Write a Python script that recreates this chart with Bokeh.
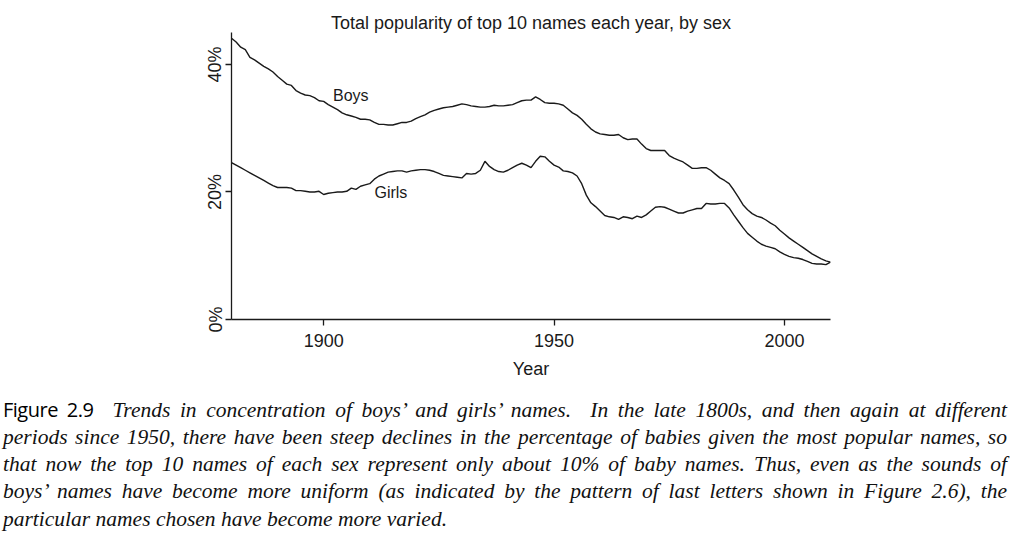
from bokeh.plotting import figure
from bokeh.models import Range1d, FixedTicker, Div
from bokeh.layouts import column
from bokeh.core.properties import value
from bokeh.embed import file_html
from bokeh.resources import INLINE

TITLE = "Total popularity of top 10 names each year, by sex"
X_LABEL = "Year"
YEARS = list(range(1880, 2011))
BOYS = [
    44.1, 43.5, 42.7, 42.3, 41.1, 40.7, 40.2, 39.7, 39.3, 38.8,
    38.1, 37.5, 36.9, 36.7, 35.9, 35.5, 35.2, 35.1, 34.8, 34.3,
    34.2, 33.7, 33.3, 32.9, 32.4, 32.1, 31.9, 31.7, 31.4, 31.4,
    31.3, 30.9, 30.6, 30.6, 30.5, 30.5, 30.7, 30.9, 30.9, 31.1,
    31.5, 31.8, 32.1, 32.5, 32.8, 33.0, 33.2, 33.3, 33.4, 33.6,
    33.8, 33.7, 33.5, 33.4, 33.3, 33.3, 33.4, 33.6, 33.5, 33.5,
    33.6, 33.7, 34.0, 34.3, 34.4, 34.4, 34.9, 34.5, 34.0, 33.9,
    33.9, 33.8, 33.6, 33.0, 32.4, 32.0, 31.4, 30.6, 29.9, 29.4,
    29.1, 29.0, 28.9, 28.9, 29.0, 28.5, 28.2, 28.3, 28.3, 27.5,
    26.8, 26.5, 26.5, 26.5, 26.5, 25.7, 25.3, 25.0, 24.7, 24.2,
    23.7, 23.7, 23.8, 23.8, 23.4, 22.8, 22.2, 21.8, 21.3, 20.3,
    19.2, 18.0, 17.2, 16.6, 16.2, 16.0, 15.6, 15.1, 14.7, 14.0,
    13.4, 12.8, 12.3, 11.8, 11.3, 10.8, 10.3, 9.9, 9.5, 9.2,
    9.0,
]
GIRLS = [
    24.6, 24.2, 23.8, 23.4, 23.0, 22.6, 22.2, 21.8, 21.4, 21.0,
    20.7, 20.7, 20.7, 20.6, 20.2, 20.2, 20.1, 20.0, 20.0, 20.1,
    19.6, 19.8, 19.9, 20.0, 20.0, 20.1, 20.6, 20.4, 20.9, 21.1,
    21.3, 22.0, 22.5, 22.8, 23.1, 23.2, 23.3, 23.3, 23.1, 23.3,
    23.4, 23.5, 23.5, 23.4, 23.2, 22.9, 22.6, 22.5, 22.4, 22.3,
    22.2, 22.9, 22.8, 22.9, 23.4, 24.8, 24.0, 23.5, 23.2, 23.1,
    23.4, 23.8, 24.2, 24.5, 24.2, 23.8, 24.8, 25.6, 25.5, 24.8,
    24.2, 23.9, 23.3, 23.2, 23.0, 22.5, 21.3, 19.5, 18.3, 17.7,
    17.0, 16.3, 16.1, 16.0, 15.7, 16.1, 16.0, 15.8, 16.2, 16.0,
    16.4, 17.0, 17.6, 17.7, 17.6, 17.3, 17.0, 16.7, 16.7, 17.0,
    17.2, 17.4, 17.4, 18.2, 18.1, 18.1, 18.2, 18.2, 17.5, 16.4,
    15.4, 14.4, 13.5, 12.9, 12.3, 11.8, 11.5, 11.3, 11.1, 10.6,
    10.2, 9.9, 9.7, 9.6, 9.4, 9.1, 8.8, 8.7, 8.7, 8.6,
    9.0,
]
X_TICKS = [1900, 1950, 2000]
Y_TICKS = [0, 20, 40]
Y_TICK_LABELS = ["0%", "20%", "40%"]
LABEL_TEXT = ["Boys", "Girls"]
LABEL_X = [1905.9, 1914.6]
LABEL_Y = [35.2, 19.9]

CAPTION_HEAD = "Figure 2.9"
CAPTION_LINES = [
    "Trends in concentration of boys\u2019 and girls\u2019 names.&nbsp; In the late 1800s, and then again at different",
    "periods since 1950, there have been steep declines in the percentage of babies given the most popular names, so",
    "that now the top 10 names of each sex represent only about 10% of baby names. Thus, even as the sounds of",
    "boys\u2019 names have become more uniform (as indicated by the pattern of last letters shown in Figure 2.6), the",
    "particular names chosen have become more varied.",
]

SANS = "Liberation Sans"
INK = "#1a1a1a"

p = figure(width=1016, height=391, x_range=Range1d(1880, 2010), y_range=Range1d(0, 45),
           output_backend="svg", toolbar_location=None, title=TITLE,
           min_border_left=231, min_border_right=186, min_border_top=32, min_border_bottom=72)
p.title.align = "center"
p.title.text_font = SANS
p.title.text_font_size = "18px"
p.title.text_font_style = "normal"
p.title.text_color = INK
p.title.standoff = 0
p.outline_line_color = None
p.xgrid.grid_line_color = None
p.ygrid.grid_line_color = None
p.background_fill_color = "white"
p.border_fill_color = "white"

for ax in (p.xaxis[0], p.yaxis[0]):
    ax.axis_line_color = INK
    ax.axis_line_width = 1.3
    ax.major_tick_line_color = INK
    ax.major_tick_line_width = 1.3
    ax.major_tick_out = 6
    ax.major_tick_in = 0
    ax.minor_tick_line_color = None
    ax.major_label_text_font = SANS
    ax.major_label_text_font_size = "18px"
    ax.major_label_text_color = INK

p.xaxis.ticker = FixedTicker(ticks=X_TICKS)
p.xaxis.major_label_standoff = 8
p.xaxis.axis_label = X_LABEL
p.xaxis.axis_label_text_font = SANS
p.xaxis.axis_label_text_font_size = "18px"
p.xaxis.axis_label_text_font_style = "normal"
p.xaxis.axis_label_text_color = INK
p.xaxis.axis_label_standoff = 9

p.yaxis.ticker = FixedTicker(ticks=Y_TICKS)
p.yaxis.major_label_overrides = {t: s for t, s in zip(Y_TICKS, Y_TICK_LABELS)}
p.yaxis.major_label_orientation = "vertical"
p.yaxis.major_label_standoff = 0

p.line(YEARS, BOYS, line_color=INK, line_width=1.4)
p.line(YEARS, GIRLS, line_color=INK, line_width=1.4)
p.text(x=LABEL_X, y=LABEL_Y, text=LABEL_TEXT, text_align="center", text_baseline="middle",
       text_font=value(SANS), text_font_size="16px", text_color=INK)

rows = []
for i, line in enumerate(CAPTION_LINES):
    last = i == len(CAPTION_LINES) - 1
    if i == 0:
        content = (f"<span style=\"font-family:'Open Sans';font-style:normal;font-size:20px;letter-spacing:-0.5px;color:#000;\">"
                   f"{CAPTION_HEAD}</span>&nbsp; <i>{line}</i>")
    else:
        content = f"<i>{line}</i>"
    if last:
        style = "text-align:left;line-height:22px;padding-top:3px;white-space:nowrap;"
    else:
        style = "text-align:justify;text-align-last:justify;line-height:27px;"
    rows.append(f"<div style=\"{style}\">{content}</div>")

html = ("<div style=\"position:relative;left:-2px;width:1004px;font-family:'Liberation Serif';"
        "font-size:21.5px;color:#111;\">" + "".join(rows) + "</div>")
cap = Div(text=html, width=1010)

layout = column(p, cap, spacing=0)
open("out.html", "w").write(file_html(layout, INLINE))
